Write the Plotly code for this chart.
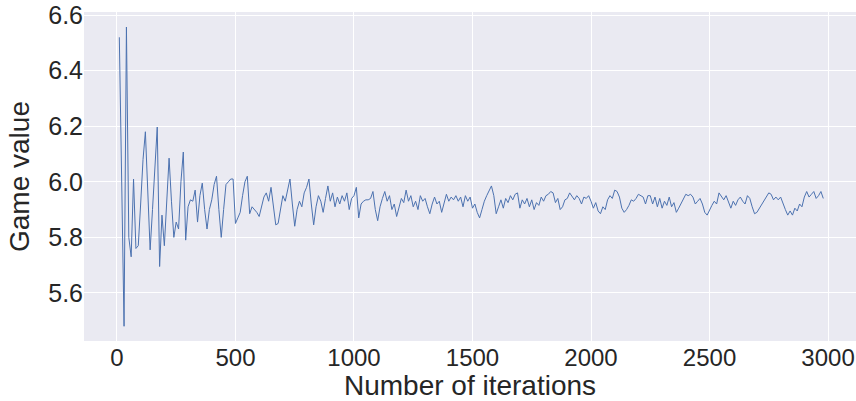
import plotly.graph_objects as go

iterations = list(range(10, 2990, 10))

game_value = [
    6.52, 6.00, 5.48, 6.557, 5.80, 5.73, 6.01, 5.76, 5.77, 5.92,
    6.08, 6.18, 5.95, 5.755, 5.90, 6.05, 6.197, 5.695, 5.88, 5.77,
    5.95, 6.085, 5.93, 5.80, 5.855, 5.83, 6.00, 6.107, 5.79, 5.91,
    5.935, 5.93, 5.97, 5.855, 5.95, 5.995, 5.90, 5.83, 5.90, 5.935,
    5.99, 6.02, 5.90, 5.80, 5.90, 5.99, 6.00, 6.01, 6.01, 5.85,
    5.87, 5.89, 5.95, 6.00, 6.02, 5.885, 5.91, 5.90, 5.89, 5.875,
    5.91, 5.945, 5.96, 5.93, 5.98, 5.92, 5.845, 5.85, 5.90, 5.95,
    5.93, 5.97, 6.01, 5.92, 5.84, 5.90, 5.93, 5.91, 5.96, 5.98,
    6.01, 5.92, 5.845, 5.91, 5.95, 5.93, 5.89, 5.94, 5.985, 5.93,
    5.96, 5.91, 5.945, 5.92, 5.95, 5.93, 5.96, 5.90, 5.94, 5.95,
    5.98, 5.87, 5.92, 5.93, 5.935, 5.935, 5.94, 5.965, 5.90, 5.86,
    5.91, 5.94, 5.965, 5.93, 5.95, 5.90, 5.92, 5.875, 5.91, 5.94,
    5.925, 5.97, 5.93, 5.95, 5.91, 5.93, 5.90, 5.95, 5.93, 5.94,
    5.91, 5.885, 5.92, 5.945, 5.92, 5.93, 5.89, 5.92, 5.955, 5.93,
    5.945, 5.935, 5.95, 5.93, 5.945, 5.91, 5.95, 5.93, 5.945, 5.905,
    5.92, 5.89, 5.87, 5.90, 5.93, 5.95, 5.97, 5.985, 5.95, 5.885,
    5.91, 5.935, 5.905, 5.94, 5.925, 5.95, 5.935, 5.955, 5.96, 5.905,
    5.935, 5.92, 5.94, 5.91, 5.935, 5.90, 5.925, 5.915, 5.945, 5.93,
    5.95, 5.955, 5.965, 5.96, 5.925, 5.94, 5.90, 5.91, 5.935, 5.94,
    5.96, 5.945, 5.935, 5.95, 5.94, 5.92, 5.945, 5.94, 5.95, 5.93,
    5.905, 5.925, 5.895, 5.885, 5.91, 5.90, 5.935, 5.95, 5.94, 5.97,
    5.965, 5.945, 5.905, 5.89, 5.90, 5.915, 5.935, 5.93, 5.94, 5.955,
    5.95, 5.945, 5.92, 5.95, 5.95, 5.92, 5.945, 5.91, 5.94, 5.905,
    5.93, 5.915, 5.945, 5.91, 5.925, 5.89, 5.905, 5.92, 5.94, 5.955,
    5.95, 5.955, 5.945, 5.92, 5.93, 5.94, 5.92, 5.89, 5.88, 5.90,
    5.915, 5.93, 5.92, 5.96, 5.945, 5.935, 5.95, 5.93, 5.905, 5.93,
    5.915, 5.935, 5.945, 5.93, 5.92, 5.95, 5.94, 5.91, 5.885, 5.89,
    5.905, 5.92, 5.93, 5.945, 5.96, 5.955, 5.935, 5.945, 5.935, 5.945,
    5.92, 5.90, 5.88, 5.895, 5.88, 5.905, 5.895, 5.92, 5.91, 5.945,
    5.965, 5.945, 5.955, 5.965, 5.94, 5.95, 5.965, 5.94,
]

assert len(iterations) == len(game_value)

x_title = "Number of iterations"
y_title = "Game value"

FONT = "Liberation Sans, Arial, sans-serif"
TXT = "#262626"

fig = go.Figure()
fig.add_trace(go.Scatter(
    x=iterations, y=game_value, mode="lines",
    line=dict(color="#4C72B0", width=1),
    showlegend=False, hoverinfo="skip",
))

fig.update_layout(
    width=856, height=401,
    margin=dict(l=84, r=0, t=12, b=60),
    paper_bgcolor="white",
    plot_bgcolor="#EAEAF2",
    font=dict(family=FONT, color=TXT),
    xaxis=dict(
        range=[-139, 3118], tick0=0, dtick=500,
        showgrid=True, gridcolor="white", gridwidth=1,
        zeroline=False, showline=False, ticks="",
        tickfont=dict(size=24, color=TXT),
        title=dict(text=x_title, font=dict(size=28, color=TXT), standoff=0),
        automargin=False,
    ),
    yaxis=dict(
        range=[5.427, 6.611], tick0=5.6, dtick=0.2, tickformat=".1f",
        showgrid=True, gridcolor="white", gridwidth=1,
        zeroline=False, showline=False, ticks="",
        tickfont=dict(size=25, color=TXT),
        title=dict(text=y_title, font=dict(size=28, color=TXT), standoff=10),
        automargin=False,
    ),
)

fig.write_html(
    "out.html",
    config={"displayModeBar": False, "staticPlot": True},
    post_script="document.body.style.margin='0';document.body.style.overflow='hidden';",
)
